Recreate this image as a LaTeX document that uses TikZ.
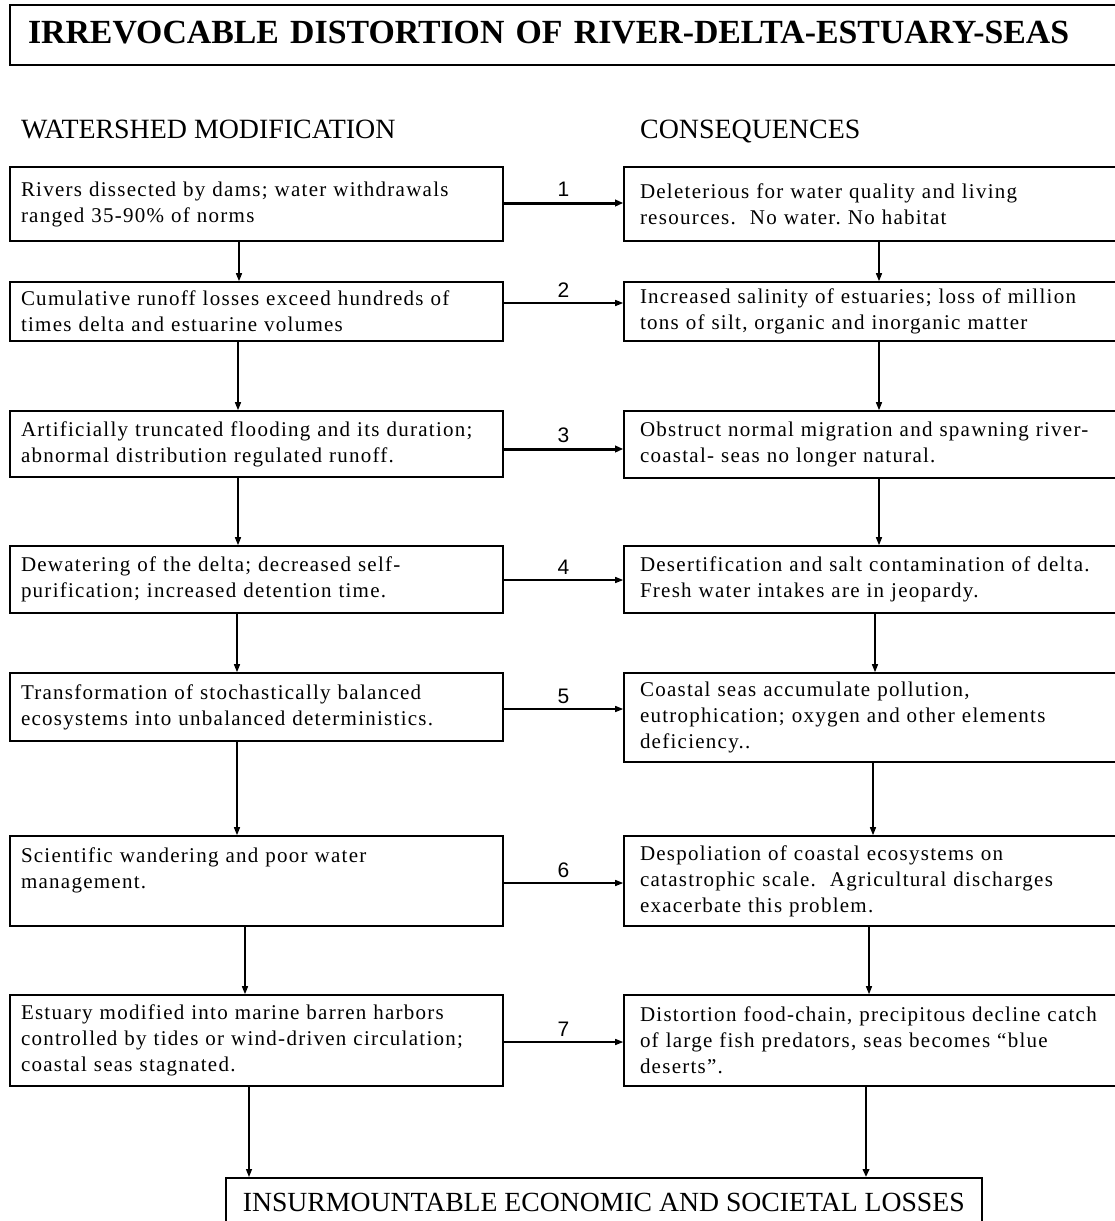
\documentclass[tikz,border=0pt]{standalone}
\usepackage{fontspec}
\setmainfont{Liberation Serif}
\newfontfamily\numfont{Liberation Sans}
\newfontfamily\bodyfont[LetterSpace=6]{Liberation Serif}
\newcommand\mybodytext{\bodyfont\fontsize{21}{26}\selectfont\frenchspacing}
\usetikzlibrary{arrows.meta}
\begin{document}
\begin{tikzpicture}[x=1pt,y=-1pt,
  boxline/.style={draw, line width=1.6pt},
  lbox/.style={boxline, minimum width=493pt, inner xsep=11pt, text width=471pt, align=left, font=\mybodytext},
  rbox/.style={boxline, minimum width=510pt, inner xsep=16pt, text width=478pt, align=left, font=\mybodytext},
  arr/.style={line width=1.3pt, -{Triangle[length=8pt,width=6pt]}},
  thickarr/.style={line width=3pt, -{Triangle[length=8pt,width=6.5pt]}},
  num/.style={font=\numfont\fontsize{21}{21}\selectfont, inner sep=0pt, above=5pt}
]
\useasboundingbox (0,0) rectangle (1115,1221);
\fill[white] (0,0) rectangle (1115,1221);
\clip (0,0) rectangle (1115,1221);

% title
\node[boxline, minimum width=1124pt, minimum height=60pt, inner xsep=18pt, text width=1088pt,
  align=left, text depth=6pt, font=\bfseries\fontsize{33.8}{40}\selectfont] (T) at (572,35)
  {IRREVOCABLE DISTORTION OF RIVER-DELTA-ESTUARY-SEAS};

% headings
\node[anchor=base west, inner sep=0pt, font=\fontsize{27.9}{30}\selectfont] (H1) at (21,138) {WATERSHED MODIFICATION};
\node[anchor=base west, inner sep=0pt, font=\fontsize{27.9}{30}\selectfont] (H2) at (640,138) {CONSEQUENCES};

% left column
\node[lbox, minimum height=74pt] (L1) at (256.5,204) {Rivers dissected by dams; water withdrawals\\ranged 35-90\% of norms};
\node[lbox, minimum height=59pt] (L2) at (256.5,311.5) {Cumulative runoff losses exceed hundreds of\\times delta and estuarine volumes};
\node[lbox, minimum height=66pt] (L3) at (256.5,444) {Artificially truncated flooding and its duration;\\abnormal distribution regulated runoff.};
\node[lbox, minimum height=67pt] (L4) at (256.5,579.5) {Dewatering of the delta; decreased self-\\purification; increased detention time.};
\node[lbox, minimum height=68pt] (L5) at (256.5,707) {Transformation of stochastically balanced\\ecosystems into unbalanced deterministics.};
\node[lbox, minimum height=90pt] (L6) at (256.5,881) {Scientific wandering and poor water\\management.\\\mbox{}};
\node[lbox, minimum height=91pt] (L7) at (256.5,1040.5) {Estuary modified into marine barren harbors\\controlled by tides or wind-driven circulation;\\coastal seas stagnated.};

% right column
\node[rbox, minimum height=74pt] (R1) at (879,204) {Deleterious for water quality and living\\resources.\ \ No water. No habitat};
\node[rbox, minimum height=59pt] (R2) at (879,311.5) {Increased salinity of estuaries; loss of million\\tons of silt, organic and inorganic matter};
\node[rbox, minimum height=67pt] (R3) at (879,444.5) {Obstruct normal migration and spawning river-\\coastal- seas no longer natural.};
\node[rbox, minimum height=67pt] (R4) at (879,579.5) {Desertification and salt contamination of delta.\\Fresh water intakes are in jeopardy.};
\node[rbox, minimum height=89pt] (R5) at (879,717.5) {Coastal seas accumulate pollution,\\eutrophication; oxygen and other elements\\deficiency..};
\node[rbox, minimum height=90pt] (R6) at (879,881) {Despoliation of coastal ecosystems on\\catastrophic scale.\ \ Agricultural discharges\\exacerbate this problem.};
\node[rbox, minimum height=91pt] (R7) at (879,1040.5) {Distortion food-chain, precipitous decline catch\\of large fish predators, seas becomes “blue\\deserts”.};

% bottom
\node[boxline, anchor=north west, minimum width=756pt, inner xsep=10pt, inner ysep=15pt,
  font=\fontsize{27.7}{30}\selectfont] (B) at (225,1177)
  {INSURMOUNTABLE ECONOMIC AND SOCIETAL LOSSES};

% horizontal arrows (start points on the left boxes)
\coordinate (s1) at ([yshift=1pt]L1.east);
\coordinate (s2) at ([yshift=8.5pt]L2.east);
\coordinate (s3) at ([yshift=-5pt]L3.east);
\coordinate (s4) at ([yshift=-0.5pt]L4.east);
\coordinate (s5) at ([yshift=-2pt]L5.east);
\coordinate (s6) at ([yshift=-2pt]L6.east);
\coordinate (s7) at ([yshift=-1.5pt]L7.east);
\draw[thickarr] (s1) -- (s1 -| R1.west) node[num, midway] {1};
\draw[arr] (s2) -- (s2 -| R2.west) node[num, midway] {2};
\draw[thickarr] (s3) -- (s3 -| R3.west) node[num, midway] {3};
\draw[arr] (s4) -- (s4 -| R4.west) node[num, midway] {4};
\draw[arr] (s5) -- (s5 -| R5.west) node[num, midway] {5};
\draw[arr] (s6) -- (s6 -| R6.west) node[num, midway] {6};
\draw[arr] (s7) -- (s7 -| R7.west) node[num, midway] {7};

% left vertical arrows
\draw[arr] ([xshift=-17.5pt]L1.south) -- ([xshift=-17.5pt]L2.north);
\draw[arr] ([xshift=-18.5pt]L2.south) -- ([xshift=-18.5pt]L3.north);
\draw[arr] ([xshift=-18.5pt]L3.south) -- ([xshift=-18.5pt]L4.north);
\draw[arr] ([xshift=-19.5pt]L4.south) -- ([xshift=-19.5pt]L5.north);
\draw[arr] ([xshift=-19.5pt]L5.south) -- ([xshift=-19.5pt]L6.north);
\draw[arr] ([xshift=-11.5pt]L6.south) -- ([xshift=-11.5pt]L7.north);
\coordinate (bl) at ([xshift=-7.5pt]L7.south);
\draw[arr] (bl) -- (bl |- B.north);

% right vertical arrows
\draw[arr] (R1.south) -- (R2.north);
\draw[arr] (R2.south) -- (R3.north);
\draw[arr] (R3.south) -- (R4.north);
\draw[arr] ([xshift=-4pt]R4.south) -- ([xshift=-4pt]R5.north);
\draw[arr] ([xshift=-6pt]R5.south) -- ([xshift=-6pt]R6.north);
\draw[arr] ([xshift=-10pt]R6.south) -- ([xshift=-10pt]R7.north);
\coordinate (br) at ([xshift=-13pt]R7.south);
\draw[line width=2.5pt, -{Triangle[length=8pt,width=6.5pt]}] (br) -- (br |- B.north);
\end{tikzpicture}
\end{document}
